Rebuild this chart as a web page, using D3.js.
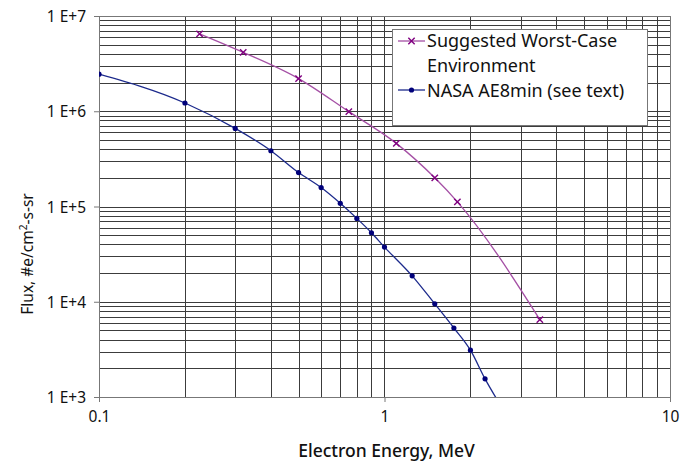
<!DOCTYPE html>
<html>
<head>
<meta charset="utf-8">
<script src="https://cdn.jsdelivr.net/npm/d3@7"></script>
<style>
  body { margin: 0; background: #fff; }
  svg text { font-family: "Noto Sans", "DejaVu Sans", sans-serif; fill: #111; }
</style>
</head>
<body>
<div id="chart"></div>
<script>
// energies (MeV) and flux (#e/cm2-s-sr)
const worstEnergy = [0.225, 0.32, 0.5, 0.75, 1.1, 1.5, 1.8, 3.5];
const worstFlux = [6.5e6, 4.15e6, 2.2e6, 9.9e5, 4.6e5, 2.0e5, 1.12e5, 6.5e3];

const nasaEnergy = [0.1, 0.2, 0.3, 0.4, 0.5, 0.6, 0.7, 0.8, 0.9, 1.0, 1.25, 1.5, 1.75, 2.0, 2.25, 2.5];
const nasaFlux = [2.45e6, 1.22e6, 6.6e5, 3.85e5, 2.27e5, 1.58e5, 1.08e5, 7.5e4, 5.3e4, 3.75e4, 1.87e4, 9.5e3, 5.3e3, 3.1e3, 1.55e3, 9.0e2];

const yTicks = [1e3, 1e4, 1e5, 1e6, 1e7];
const yTickLabels = ["1 E+3", "1 E+4", "1 E+5", "1 E+6", "1 E+7"];
const xTicks = [0.1, 1, 10];
const xTickLabels = ["0.1", "1", "10"];

const seriesNames = [["Suggested Worst-Case", "Environment"], ["NASA AE8min (see text)"]];

const W = 688, H = 462;
const margin = {top: 16, right: 18, bottom: 65, left: 99};
const width = W - margin.left - margin.right;
const height = H - margin.top - margin.bottom;

const svg = d3.select("#chart").append("svg")
  .attr("width", W)
  .attr("height", H);

const g = svg.append("g")
  .attr("transform", `translate(${margin.left},${margin.top})`);

const x = d3.scaleLog().domain([0.1, 10]).range([0, width]);
const y = d3.scaleLog().domain([1e3, 1e7]).range([height, 0]);

// minor grid 2..9 per decade
const minorX = [];
[0.1, 1].forEach(d => { for (let k = 2; k <= 9; k++) minorX.push(d * k); });
const minorY = [];
[1e3, 1e4, 1e5, 1e6].forEach(d => { for (let k = 2; k <= 9; k++) minorY.push(d * k); });

const grid = g.append("g").attr("stroke", "#3c3c3c").attr("stroke-width", 1).attr("shape-rendering", "crispEdges");
grid.selectAll(".vx")
  .data(minorX.concat([1]))
  .enter().append("line")
  .attr("x1", d => Math.round(x(d)) + 0.5)
  .attr("x2", d => Math.round(x(d)) + 0.5)
  .attr("y1", 0).attr("y2", height);
grid.selectAll(".hy")
  .data(minorY.concat([1e4, 1e5, 1e6]))
  .enter().append("line")
  .attr("y1", d => Math.round(y(d)) + 0.5)
  .attr("y2", d => Math.round(y(d)) + 0.5)
  .attr("x1", 0).attr("x2", width);

// frame
g.append("rect")
  .attr("x", 0.5).attr("y", 0.5)
  .attr("width", width).attr("height", height)
  .attr("fill", "none").attr("stroke", "#777")
  .attr("shape-rendering", "crispEdges");

// axes
const yAxis = g.append("g")
  .call(d3.axisLeft(y).tickValues(yTicks).tickSize(5).tickPadding(8)
    .tickFormat((d, i) => yTickLabels[i]));
yAxis.select(".domain").attr("stroke", "#777");
yAxis.selectAll(".tick line").attr("stroke", "#777");
yAxis.selectAll("text").attr("font-size", 15.5).attr("fill", "#111").attr("dy", "0.36em");

const xAxis = g.append("g")
  .attr("transform", `translate(0,${height})`)
  .call(d3.axisBottom(x).tickValues(xTicks).tickSize(5).tickPadding(9)
    .tickFormat((d, i) => xTickLabels[i]));
xAxis.select(".domain").attr("stroke", "#777");
xAxis.selectAll(".tick line").attr("stroke", "#777");
xAxis.selectAll("text").attr("font-size", 15.5).attr("fill", "#111");

// axis titles
svg.append("text")
  .attr("x", margin.left + x(1) + 2)
  .attr("y", 457)
  .attr("text-anchor", "middle")
  .attr("font-size", 17.5)
  .attr("font-weight", 500)
  .text("Electron Energy, MeV");

const yTitle = svg.append("text")
  .attr("transform", "translate(33,254) rotate(-90)")
  .attr("text-anchor", "middle")
  .attr("font-size", 15.5);
yTitle.append("tspan").text("Flux, #e/cm");
yTitle.append("tspan").attr("font-size", 10).attr("dy", -6).text("2");
yTitle.append("tspan").attr("dy", 6).text("-s-sr");

// series
g.append("clipPath").attr("id", "clip")
  .append("rect").attr("width", width).attr("height", height);

const line = d3.line()
  .x(d => x(d[0]))
  .y(d => y(d[1]))
  .curve(d3.curveMonotoneX);

const worst = worstEnergy.map((e, i) => [e, worstFlux[i]]);
const nasa = nasaEnergy.map((e, i) => [e, nasaFlux[i]]);

const plot = g.append("g").attr("clip-path", "url(#clip)");

plot.append("path").datum(worst)
  .attr("fill", "none").attr("stroke", "#a550a5").attr("stroke-width", 1.3)
  .attr("d", line);
plot.append("path").datum(nasa)
  .attr("fill", "none").attr("stroke", "#1c2a8c").attr("stroke-width", 1.3)
  .attr("d", line);

const star = d3.symbol().type(d3.symbolTimes).size(28);
plot.selectAll(".wm")
  .data(worst)
  .enter().append("path")
  .attr("transform", d => `translate(${x(d[0])},${y(d[1])})`)
  .attr("d", star)
  .attr("stroke", "#800080").attr("stroke-width", 1.4).attr("fill", "#800080");

plot.selectAll(".nm")
  .data(nasa)
  .enter().append("circle")
  .attr("cx", d => x(d[0])).attr("cy", d => y(d[1]))
  .attr("r", 2.6)
  .attr("fill", "#00007a");

// legend
const lg = svg.append("g").attr("transform", "translate(392,29)");
lg.append("rect")
  .attr("x", 0.5).attr("y", 0.5)
  .attr("width", 255).attr("height", 96)
  .attr("fill", "#fff").attr("stroke", "#777")
  .attr("shape-rendering", "crispEdges");

lg.append("line").attr("x1", 6).attr("x2", 33).attr("y1", 12).attr("y2", 12)
  .attr("stroke", "#a550a5").attr("stroke-width", 1.3);
lg.append("path").attr("transform", "translate(19.5,12)").attr("d", star)
  .attr("stroke", "#800080").attr("stroke-width", 1.4);
const t1 = lg.append("text").attr("font-size", 18);
seriesNames[0].forEach((s, i) => {
  t1.append("tspan").attr("x", 35).attr("y", 18 + i * 24.7).text(s);
});

lg.append("line").attr("x1", 6).attr("x2", 33).attr("y1", 61).attr("y2", 61)
  .attr("stroke", "#1c2a8c").attr("stroke-width", 1.3);
lg.append("circle").attr("cx", 19.5).attr("cy", 61).attr("r", 2.6).attr("fill", "#00007a");
lg.append("text").attr("x", 35).attr("y", 67.6).attr("font-size", 18).text(seriesNames[1][0]);
</script>
</body>
</html>
